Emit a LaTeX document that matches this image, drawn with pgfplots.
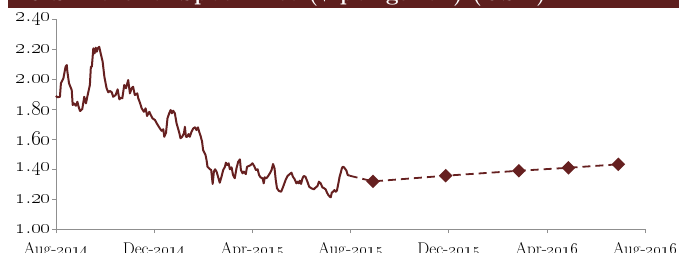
\RequirePackage{fix-cm}
\documentclass[border=0pt]{standalone}
\usepackage{pgfplots}
\pgfplotsset{compat=1.18}
\definecolor{wine}{HTML}{662020}
\definecolor{barred}{HTML}{5E1F1E}
\definecolor{axgray}{HTML}{8F8F8F}
\newcommand{\osn}[1]{\oldstylenums{#1}}
\pgfplotstableread{
m v
0.00 1.89
0.05 1.88
0.16 1.883
0.20 1.973
0.30 2.006
0.39 2.084
0.44 2.095
0.46 2.055
0.53 1.973
0.64 1.928
0.68 1.828
0.73 1.839
0.81 1.823
0.87 1.850
0.92 1.817
0.98 1.788
1.07 1.801
1.15 1.883
1.22 1.839
1.29 1.895
1.38 1.962
1.42 2.084
1.46 2.084
1.52 2.207
1.57 2.173
1.62 2.211
1.66 2.184
1.70 2.207
1.76 2.217
1.82 2.173
1.90 2.117
1.97 2.017
2.06 1.940
2.13 1.913
2.20 1.922
2.27 1.913
2.33 1.883
2.43 1.895
2.51 1.933
2.58 1.866
2.64 1.877
2.70 1.873
2.78 1.962
2.85 1.940
2.94 1.995
3.01 1.906
3.08 1.940
3.14 1.950
3.21 1.895
3.31 1.906
3.35 1.873
3.42 1.843
3.49 1.806
3.58 1.783
3.65 1.806
3.71 1.755
3.80 1.783
3.86 1.761
3.93 1.739
4.03 1.728
4.12 1.701
4.23 1.672
4.30 1.656
4.37 1.666
4.41 1.616
4.48 1.643
4.54 1.739
4.61 1.773
4.67 1.795
4.72 1.773
4.77 1.790
4.84 1.773
4.91 1.706
5.02 1.643
5.07 1.606
5.14 1.616
5.21 1.639
5.25 1.683
5.29 1.616
5.34 1.616
5.40 1.634
5.45 1.616
5.52 1.650
5.59 1.672
5.66 1.679
5.72 1.661
5.78 1.679
5.83 1.650
5.89 1.621
5.95 1.583
5.99 1.528
6.09 1.494
6.13 1.461
6.17 1.416
6.27 1.399
6.32 1.394
6.38 1.301
6.43 1.383
6.48 1.399
6.54 1.383
6.60 1.349
6.67 1.309
6.74 1.349
6.81 1.394
6.88 1.416
6.92 1.443
6.97 1.427
7.03 1.439
7.08 1.399
7.15 1.412
7.21 1.361
7.28 1.339
7.35 1.405
7.42 1.449
7.49 1.465
7.53 1.394
7.60 1.372
7.65 1.383
7.73 1.367
7.78 1.416
7.86 1.421
7.93 1.427
8.00 1.439
8.07 1.421
8.14 1.394
8.21 1.399
8.27 1.361
8.33 1.345
8.41 1.339
8.46 1.305
8.50 1.345
8.57 1.339
8.64 1.354
8.71 1.372
8.78 1.394
8.84 1.434
8.90 1.405
8.95 1.327
9.00 1.272
9.08 1.254
9.17 1.249
9.25 1.282
9.35 1.327
9.43 1.354
9.52 1.367
9.59 1.376
9.65 1.349
9.72 1.332
9.79 1.305
9.83 1.316
9.89 1.305
9.93 1.323
9.98 1.301
10.04 1.339
10.09 1.354
10.16 1.349
10.24 1.316
10.31 1.282
10.40 1.272
10.50 1.265
10.58 1.278
10.65 1.287
10.71 1.316
10.78 1.305
10.85 1.278
10.92 1.272
10.98 1.265
11.04 1.242
11.09 1.227
11.15 1.216
11.19 1.212
11.23 1.242
11.28 1.249
11.34 1.260
11.39 1.249
11.44 1.256
11.50 1.305
11.55 1.349
11.59 1.372
11.64 1.405
11.68 1.416
11.73 1.412
11.79 1.399
11.83 1.389
11.88 1.361
11.96 1.356
}\actual
\pgfplotstableread{
m v
11.96 1.356
12.91 1.318
15.87 1.356
18.85 1.389
20.87 1.409
22.90 1.432
}\forecast
\begin{document}
\begin{tikzpicture}[x=1pt,y=1pt]
\useasboundingbox (0,0) rectangle (679,252);
\fill[barred] (8,243.5) rectangle (679,252);
\node[anchor=base west, text=white, font=\fontsize{23}{27}\selectfont\bfseries, inner sep=0pt] at (25,251.8) {U.S. Ethanol Spot Price (\$ per gallon) (USD)};
\begin{axis}[
  at={(56pt,23pt)}, anchor=south west,
  scale only axis, width=589.3pt, height=209.6pt,
  xmin=0, xmax=24, ymin=1, ymax=2.4,
  axis x line*=bottom, axis y line*=left,
  axis line style={axgray, line width=0.8pt},
  tick align=outside, major tick length=4pt,
  tick style={axgray, line width=0.8pt},
  xtick={0,4,8,12,16,20,24},
  xticklabels={Aug-\osn{2014},Dec-\osn{2014},Apr-\osn{2015},Aug-\osn{2015},Dec-\osn{2015},Apr-\osn{2016},Aug-\osn{2016}},
  ytick={1,1.2,1.4,1.6,1.8,2.0,2.2,2.4},
  yticklabels={\osn{1}.\osn{00},\osn{1}.\osn{20},\osn{1}.\osn{40},\osn{1}.\osn{60},\osn{1}.\osn{80},\osn{2}.\osn{00},\osn{2}.\osn{20},\osn{2}.\osn{40}},
  xticklabel style={font=\fontsize{17}{19}\selectfont, anchor=base, inner sep=0pt, yshift=-21pt},
  yticklabel style={font=\fontsize{21}{23}\selectfont, anchor=east, inner sep=0pt, xshift=-1pt},
  clip=false,
]
\addplot[wine, line width=2pt, line join=round] table[x=m,y=v] {\actual};
\addplot[wine, line width=1.8pt, dash pattern=on 8pt off 5pt, mark=square*, mark size=3.9pt, mark indices={2,3,4,5,6}, mark options={solid, rotate=45, fill=wine, draw=wine}] table[x=m,y=v] {\forecast};
\end{axis}
\end{tikzpicture}
\end{document}
